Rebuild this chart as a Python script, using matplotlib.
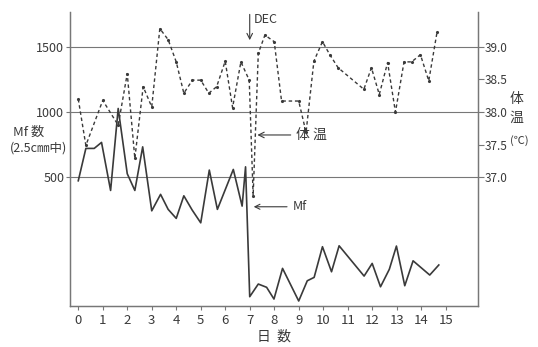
import matplotlib
matplotlib.use("Agg")
import matplotlib.pyplot as plt
from matplotlib import font_manager

# Data
t_days = [0, 0.31, 1.0, 1.63, 2.0, 2.31, 2.65, 3.0, 3.33, 3.67, 4.0, 4.31, 4.66, 5.0,
          5.33, 5.65, 6.0, 6.3, 6.64, 6.98, 7.14, 7.35, 7.62, 8.0, 8.3, 9.0, 9.3, 9.62,
          9.97, 10.27, 10.61, 11.66, 11.97, 12.29, 12.63, 12.95, 13.3, 13.61, 13.97,
          14.31, 14.65]
temps = [38.2, 37.49, 38.18, 37.8, 38.59, 37.29, 38.39, 38.08, 39.28, 39.11, 38.77,
         38.29, 38.49, 38.49, 38.29, 38.39, 38.78, 38.07, 38.77, 38.49, 36.72, 38.9,
         39.18, 39.08, 38.17, 38.17, 37.69, 38.78, 39.08, 38.88, 38.68, 38.35, 38.68,
         38.27, 38.76, 38.0, 38.77, 38.77, 38.88, 38.48, 39.23]

mf_days = [0, 0.31, 0.65, 0.95, 1.32, 1.63, 2.0, 2.31, 2.63, 3.0, 3.36, 3.67, 4.0,
           4.31, 4.65, 5.0, 5.35, 5.68, 6.33, 6.69, 6.83, 7.0, 7.35, 7.69, 7.99, 8.34,
           9.0, 9.35, 9.63, 9.97, 10.34, 10.65, 11.67, 12.0, 12.34, 12.7, 12.99, 13.33,
           13.67, 14.35, 14.72]
mf = [474, 722, 722, 768, 400, 1028, 528, 400, 734, 244, 370, 255, 186, 359, 250, 152,
      556, 255, 561, 280, 581, -414, -317, -342, -432, -197, -447, -292, -266, -31,
      -223, -24, -256, -159, -338, -204, -26, -330, -139, -248, -171]

mf_ticks = [500, 1000, 1500]
temp_ticks = [37.0, 37.5, 38.0, 38.5, 39.0]
day_ticks = list(range(16))

installed = {f.name for f in font_manager.fontManager.ttflist}
fams = [f for f in ['Liberation Sans Narrow', 'Noto Sans CJK JP', 'DejaVu Sans'] if f in installed]
plt.rcParams['font.family'] = fams
cjk = ['Noto Sans CJK JP', 'DejaVu Sans']

ink = '#3a3a3a'
fig = plt.figure(figsize=(5.38, 3.47), dpi=100)
ax = fig.add_axes([0.130, 0.119, 0.758, 0.846])
ax2 = ax.twinx()

mf_lo, mf_hi = -483, 1766
ax.set_ylim(mf_lo, mf_hi)
ax2.set_ylim(37 + (mf_lo - 500) / 500, 37 + (mf_hi - 500) / 500)
ax.set_xlim(-0.34, 16.31)

for v in mf_ticks:
    ax.axhline(v, color='#777777', lw=0.8, zorder=1)

ax.plot(mf_days, mf, color=ink, lw=1.2, zorder=3)
ax2.plot(t_days, temps, color=ink, lw=1.0, linestyle=(0, (2.5, 2)), zorder=3)
ax2.plot(t_days, temps, color=ink, lw=0, marker='.', ms=2.5, zorder=3)

for a in (ax, ax2):
    a.spines['top'].set_visible(False)
    for s in a.spines.values():
        s.set_color('#777777')
        s.set_linewidth(0.9)

ax.set_yticks(mf_ticks)
ax.set_yticklabels([str(v) for v in mf_ticks], fontsize=9, color=ink)
ax.tick_params(axis='y', length=3, color='#777777', pad=1)
ax.set_xticks(day_ticks)
ax.set_xticklabels([str(d) for d in day_ticks], fontsize=9.5, color=ink)
ax.tick_params(axis='x', length=3, color='#777777', pad=3)

ax2.set_yticks(temp_ticks)
ax2.set_yticklabels([f'{v:.1f}' for v in temp_ticks], fontsize=8.5, color=ink)
ax2.tick_params(axis='y', length=4, color='#777777', pad=1)

ax.set_xlabel('日  数', fontsize=10, color=ink, labelpad=2, family=cjk)

fig.text(0.025, 0.618, 'Mf 数', fontsize=9.5, color=ink, family=cjk, va='center')
fig.text(0.018, 0.574, '(2.5c㎜中)', fontsize=9, color=ink, family=cjk, va='center')
fig.text(0.960, 0.715, '体', fontsize=10, color=ink, family=cjk, va='center', ha='center')
fig.text(0.960, 0.660, '温', fontsize=10, color=ink, family=cjk, va='center', ha='center')
fig.text(0.966, 0.596, '(℃)', fontsize=8, color=ink, family=cjk, va='center', ha='center')

# annotations: DEC arrow, 体温 and Mf pointers
ax.annotate('', xy=(7.0, 1530), xytext=(7.0, 1770),
            arrowprops=dict(arrowstyle='->', color=ink, lw=0.8), annotation_clip=False)
ax.text(7.15, 1710, 'DEC', fontsize=9, color=ink, va='center')
ax2.annotate('体 温', xy=(7.2, 37.65), xytext=(8.9, 37.65), fontsize=10, color=ink,
             family=cjk, va='center',
             arrowprops=dict(arrowstyle='->', color=ink, lw=0.8))
ax.annotate('Mf', xy=(7.05, 275), xytext=(8.75, 275), fontsize=9, color=ink,
            va='center', arrowprops=dict(arrowstyle='->', color=ink, lw=0.8))

fig.savefig('out.png', dpi=100)
